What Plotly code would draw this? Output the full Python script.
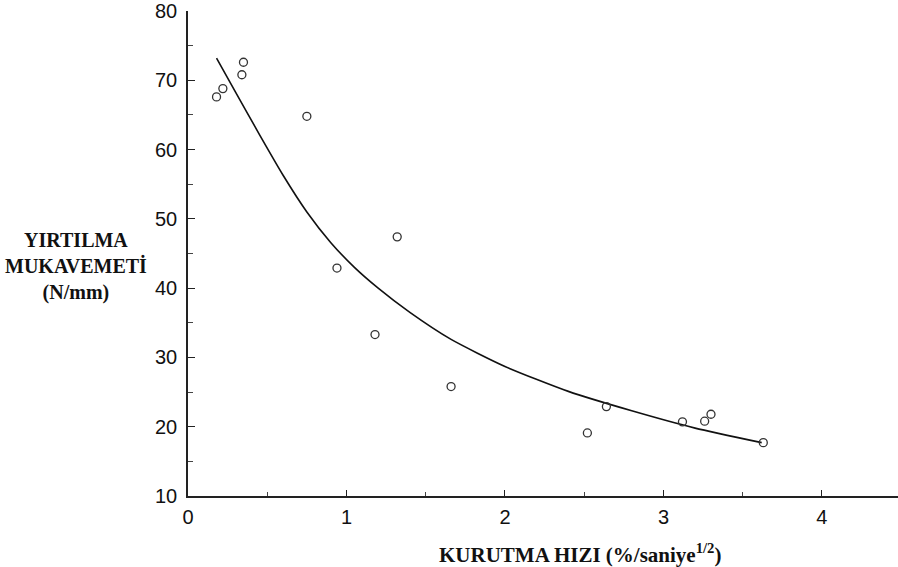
import plotly.graph_objects as go

# Measured points (KURUTMA HIZI vs YIRTILMA MUKAVEMETİ)
x_points = [0.18, 0.22, 0.34, 0.35, 0.75, 0.94, 1.18, 1.32, 1.66, 2.52, 2.64, 3.12, 3.26, 3.30, 3.63]
y_points = [67.6, 68.8, 70.8, 72.6, 64.8, 42.9, 33.3, 47.4, 25.8, 19.1, 22.9, 20.7, 20.8, 21.8, 17.7]

# Fitted curve
x_curve = [0.18, 0.30, 0.45, 0.60, 0.75, 0.90, 1.05, 1.20, 1.40, 1.66, 2.00, 2.40, 2.80, 3.20, 3.62]
y_curve = [73.2, 68.3, 62.2, 56.3, 51.0, 46.6, 43.0, 40.0, 36.5, 32.6, 28.7, 25.1, 22.3, 19.8, 17.7]

x_ticks = [0, 1, 2, 3, 4]
y_ticks = [10, 20, 30, 40, 50, 60, 70, 80]

W, H = 898, 567
L, R, T, B = 188, 0, 11, 71
PW, PH = W - L - R, H - T - B

fig = go.Figure()
fig.add_trace(go.Scatter(
    x=x_curve, y=y_curve, mode="lines",
    line=dict(color="#111111", width=1.6, shape="spline", smoothing=0.6),
    hoverinfo="skip", showlegend=False))
fig.add_trace(go.Scatter(
    x=x_points, y=y_points, mode="markers",
    marker=dict(symbol="circle-open", size=8, color="#333333", line=dict(width=1.3, color="#333333")),
    showlegend=False))

axis_font = dict(family="Liberation Sans, Arial, sans-serif", size=20, color="#111111")
serif = "Liberation Serif, Times New Roman, serif"
fig.update_layout(
    width=W, height=H,
    margin=dict(l=L, r=R, t=T, b=B),
    paper_bgcolor="white", plot_bgcolor="white",
    xaxis=dict(range=[0, 4.48], tickvals=x_ticks, ticks="inside", ticklen=6, tickwidth=1.2,
               tickcolor="#222", showline=True, linecolor="#222", linewidth=1.6,
               showgrid=False, zeroline=False, tickfont=axis_font, ticklabelstandoff=2,
               minor=dict(dtick=0.5, ticks="inside", ticklen=4, tickcolor="#444", tickwidth=1),
               fixedrange=True),
    yaxis=dict(range=[10, 80], tickvals=y_ticks, ticks="inside", ticklen=7, tickwidth=1.2,
               tickcolor="#222", showline=True, linecolor="#222", linewidth=1.6,
               showgrid=False, zeroline=False, tickfont=axis_font, ticklabelstandoff=5,
               minor=dict(dtick=5, ticks="inside", ticklen=5, tickcolor="#444", tickwidth=1),
               fixedrange=True),
    annotations=[
        dict(text="<b>YIRTILMA<br>MUKAVEMETİ<br>(N/mm)</b>", xref="paper", yref="paper",
             x=(76 - L) / PW, y=(H - B - 266) / PH,
             xanchor="center", yanchor="middle", showarrow=False, align="center",
             font=dict(family=serif, size=20, color="#111111")),
        dict(text="<b>KURUTMA HIZI (%/saniye<sup>1/2</sup>)</b>", xref="paper", yref="paper",
             x=(580 - L) / PW, y=-(553 - (H - B)) / PH,
             xanchor="center", yanchor="middle", showarrow=False,
             font=dict(family=serif, size=21, color="#111111")),
    ],
)

# remove the browser's default 8px page margin so the figure fills the window exactly
fig.write_html("out.html",
               config={"displayModeBar": False},
               post_script="document.body.style.margin='0';document.body.style.overflow='hidden';")
